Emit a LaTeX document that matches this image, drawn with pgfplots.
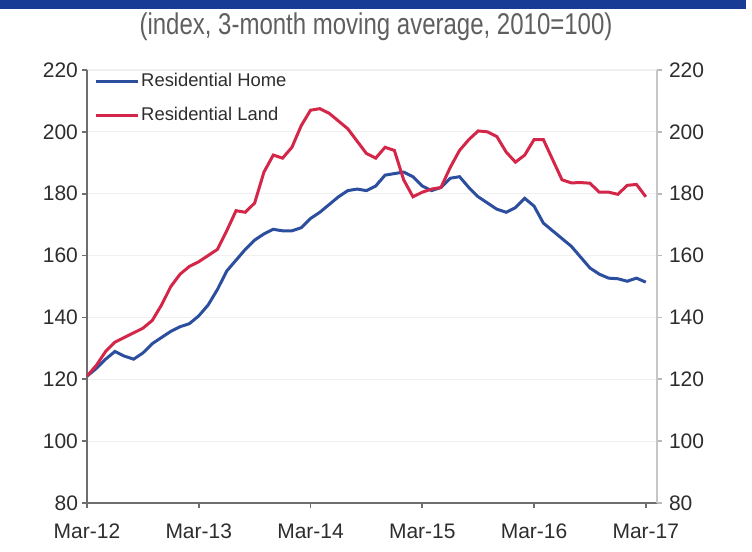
\documentclass[border=0pt]{standalone}
\usepackage{pgfplots}
\pgfplotsset{compat=1.18}
\usepackage{fontspec}
\setmainfont{Liberation Sans}
\usepackage{graphicx}

\definecolor{homeblue}{RGB}{44,78,158}
\definecolor{landred}{RGB}{212,38,72}
\definecolor{barblue}{RGB}{24,60,150}
\definecolor{subgray}{RGB}{95,95,95}
\definecolor{axgray}{RGB}{110,110,110}
\definecolor{labgray}{RGB}{45,45,45}

% months since Mar-12
\pgfplotstableread{
m   home   land
0   121.0  121.0
1   123.5  124.5
2   126.5  129.0
3   129.0  132.0
4   127.5  133.5
5   126.5  135.0
6   128.5  136.5
7   131.5  139.0
8   133.5  144.0
9   135.5  150.0
10  137.0  154.0
11  138.0  156.5
12  140.5  158.0
13  144.0  160.0
14  149.0  162.0
15  155.0  168.0
16  158.5  174.5
17  162.0  174.0
18  165.0  177.0
19  167.0  187.0
20  168.5  192.5
21  168.0  191.5
22  168.0  195.0
23  169.0  202.0
24  172.0  207.0
25  174.0  207.5
26  176.5  206.0
27  179.0  203.5
28  181.0  201.0
29  181.5  197.0
30  181.0  193.0
31  182.5  191.5
32  186.0  195.0
33  186.5  194.0
34  187.0  184.5
35  185.5  179.0
36  182.5  180.5
37  181.0  181.5
38  182.0  182.0
39  185.0  188.5
40  185.5  194.0
41  182.0  197.5
42  179.0  200.3
43  177.0  200.0
44  175.0  198.5
45  174.0  193.5
46  175.5  190.2
47  178.5  192.5
48  176.0  197.5
49  170.5  197.5
50  168.0  191.0
51  165.5  184.5
52  163.0  183.5
53  159.5  183.6
54  156.0  183.4
55  154.0  180.5
56  152.7  180.5
57  152.5  179.8
58  151.7  182.7
59  152.7  183.0
60  151.4  179.0
}\datatable

\begin{document}
\begin{tikzpicture}
\path[use as bounding box] (0,0) rectangle (376pt,276pt);
\fill[barblue] (0,271.5pt) rectangle (373pt,276pt);
\node[text=subgray, font=\fontsize{15}{18}\selectfont] at (188pt,262.5pt)
  {\scalebox{0.8}[1]{(index, 3-month moving average, 2010=100)}};

\begin{axis}[
    at={(43.5pt,24.5pt)}, anchor=south west,
    scale only axis, width=285pt, height=216.5pt,
    xmin=0, xmax=61.2, ymin=80, ymax=220,
    axis x line*=bottom, axis y line*=left,
    xtick={0,12,...,60},
    xticklabels={Mar-12,Mar-13,Mar-14,Mar-15,Mar-16,Mar-17},
    ytick={80,100,...,220},
    ymajorgrids=true,
    grid style={draw=gray!12, line width=0.6pt},
    tick align=outside, major tick length=2.5pt,
    tick style={axgray, line width=0.8pt},
    x axis line style={axgray, line width=1.3pt},
    y axis line style={axgray, line width=0.9pt},
    ticklabel style={font=\fontsize{10.5}{12}\selectfont, text=labgray},
    xticklabel style={yshift=-4.5pt},
    yticklabel style={xshift=1.5pt},
    /pgf/number format/assume math mode=true,
    legend style={draw=none, fill=none, at={(0.012,0.998)}, anchor=north west,
        font=\fontsize{9.2}{11}\selectfont, text=labgray, row sep=7pt, inner sep=0pt,
        nodes={inner sep=1pt}},
    legend cell align=left,
    legend image code/.code={\draw[#1, line width=1.5pt] (0pt,0pt) -- (21pt,0pt);},
]
\addplot[homeblue, line width=1.5pt] table[x=m, y=home] {\datatable};
\addplot[landred, line width=1.5pt] table[x=m, y=land] {\datatable};
\legend{Residential Home, Residential Land}
\end{axis}

\begin{axis}[
    at={(43.5pt,24.5pt)}, anchor=south west,
    scale only axis, width=285pt, height=216.5pt,
    xmin=0, xmax=61.2, ymin=80, ymax=220,
    axis x line=none, axis y line*=right,
    ytick={80,100,...,220},
    tick align=outside, major tick length=2.5pt,
    tick style={gray!55, line width=0.8pt},
    y axis line style={gray!45, line width=0.8pt},
    ticklabel style={font=\fontsize{10.5}{12}\selectfont, text=labgray},
    /pgf/number format/assume math mode=true,
]
\end{axis}
\end{tikzpicture}
\end{document}
